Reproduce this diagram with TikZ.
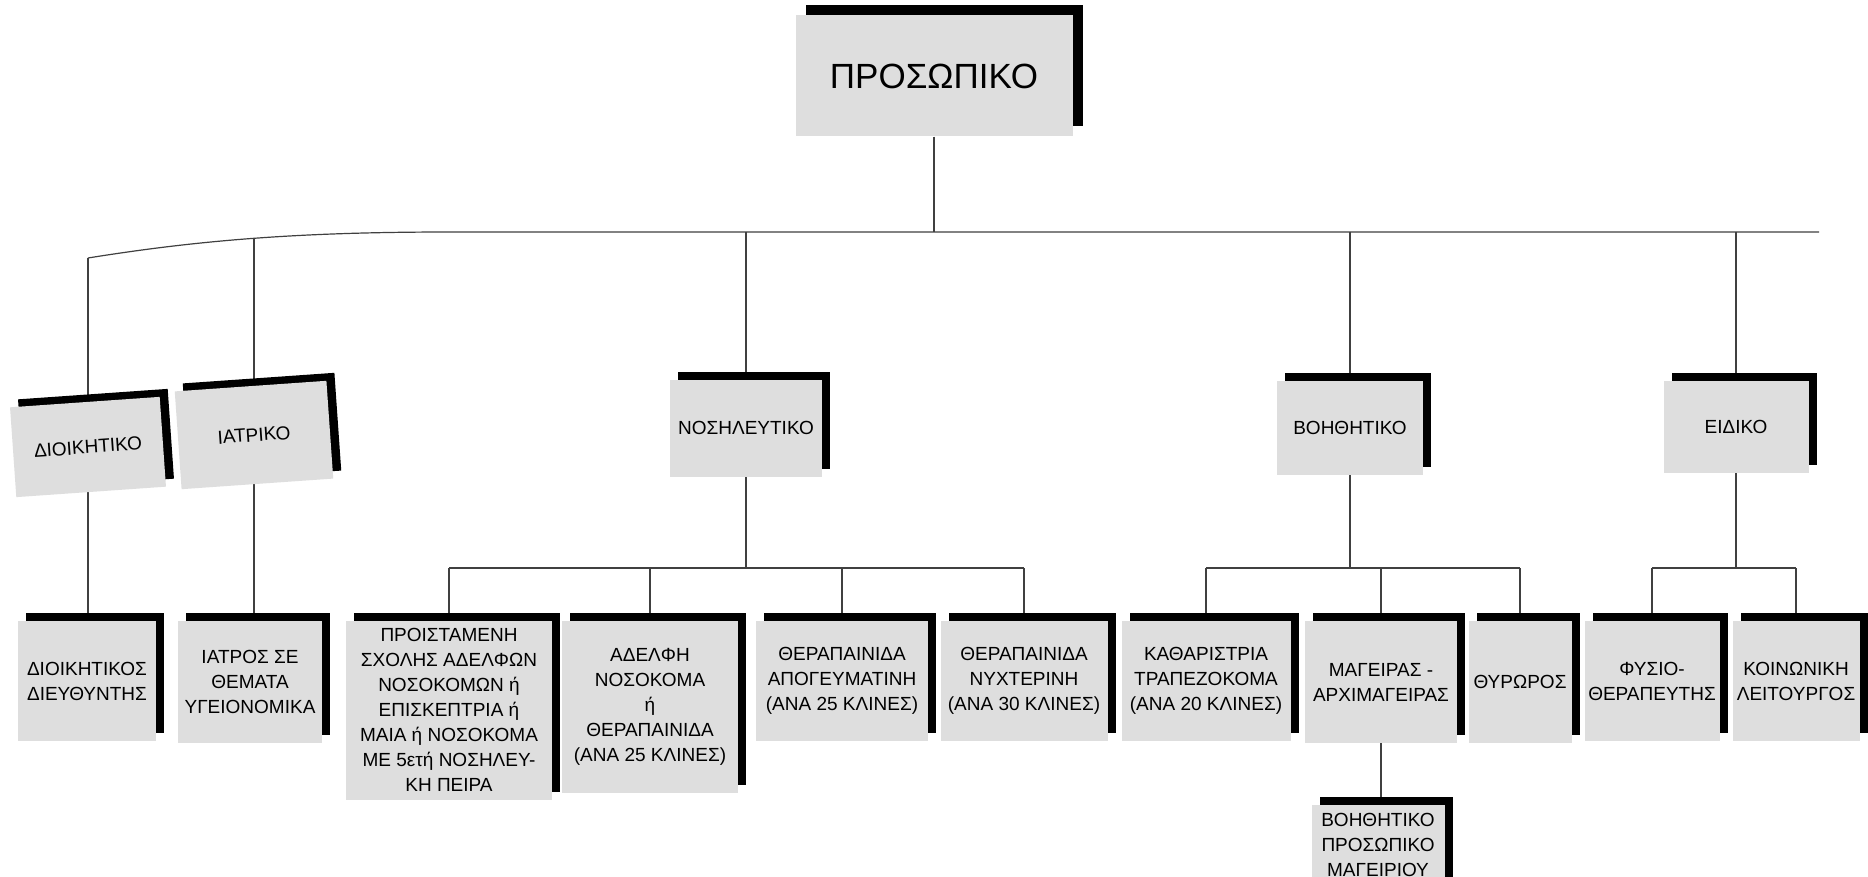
\documentclass[tikz,border=0pt]{standalone}
\usepackage{fontspec}
\setmainfont{Liberation Sans}
\usetikzlibrary{shadows,backgrounds}

\begin{document}
\begin{tikzpicture}[x=1pt,y=-1pt,
    unit/.style={fill=black!13, inner sep=0pt, align=center,
      font=\fontsize{19}{25}\selectfont,
      general shadow={fill=black, shadow xshift=#1, shadow yshift=#1}},
    unit/.default=8pt,
    link/.style={draw=black!75, line width=1.2pt}]
  \clip (0,0) rectangle (1868,877);

  % top
  \node [unit=10pt, minimum width=277pt, minimum height=121pt,
         font=\fontsize{35}{40}\selectfont] (pers) at (934,76) {ΠΡΟΣΩΠΙΚΟ};

  % first level
  \node [unit, rotate=4, minimum width=150pt, minimum height=90pt] (admin) at (88,447) {ΔΙΟΙΚΗΤΙΚΟ};
  \node [unit, rotate=4, minimum width=152pt, minimum height=98pt] (medic) at (254,435) {ΙΑΤΡΙΚΟ};
  \node [unit, minimum width=152pt, minimum height=97pt] (nurse) at (746,428) {ΝΟΣΗΛΕΥΤΙΚΟ};
  \node [unit, minimum width=146pt, minimum height=94pt] (aux) at (1350,428) {ΒΟΗΘΗΤΙΚΟ};
  \node [unit, minimum width=145pt, minimum height=92pt] (spec) at (1736,427) {ΕΙΔΙΚΟ};

  % second level
  \node [unit, minimum width=138pt, minimum height=120pt] (head) at (87,681) {ΔΙΟΙΚΗΤΙΚΟΣ\\ΔΙΕΥΘΥΝΤΗΣ};
  \node [unit, minimum width=144pt, minimum height=122pt] (hyg) at (250,682) {ΙΑΤΡΟΣ ΣΕ\\ΘΕΜΑΤΑ\\ΥΓΕΙΟΝΟΜΙΚΑ};
  \node [unit, minimum width=206pt, minimum height=179pt] (matron) at (449,710)
    {ΠΡΟΙΣΤΑΜΕΝΗ\\ΣΧΟΛΗΣ ΑΔΕΛΦΩΝ\\ΝΟΣΟΚΟΜΩΝ ή\\ΕΠΙΣΚΕΠΤΡΙΑ ή\\ΜΑΙΑ ή ΝΟΣΟΚΟΜΑ\\ΜΕ 5ετή ΝΟΣΗΛΕΥ-\\ΚΗ ΠΕΙΡΑ};
  \node [unit, minimum width=176pt, minimum height=172pt] (sister) at (650,707)
    {ΑΔΕΛΦΗ\\ΝΟΣΟΚΟΜΑ\\ή\\ΘΕΡΑΠΑΙΝΙΔΑ\\(ΑΝΑ 25 ΚΛΙΝΕΣ)};
  \node [unit, minimum width=172pt, minimum height=120pt] (eve) at (842,681) {ΘΕΡΑΠΑΙΝΙΔΑ\\ΑΠΟΓΕΥΜΑΤΙΝΗ\\(ΑΝΑ 25 ΚΛΙΝΕΣ)};
  \node [unit, minimum width=167pt, minimum height=120pt] (night) at (1024,681) {ΘΕΡΑΠΑΙΝΙΔΑ\\ΝΥΧΤΕΡΙΝΗ\\(ΑΝΑ 30 ΚΛΙΝΕΣ)};
  \node [unit, minimum width=169pt, minimum height=120pt] (clean) at (1206,681) {ΚΑΘΑΡΙΣΤΡΙΑ\\ΤΡΑΠΕΖΟΚΟΜΑ\\(ΑΝΑ 20 ΚΛΙΝΕΣ)};
  \node [unit, minimum width=152pt, minimum height=122pt] (cook) at (1381,682) {ΜΑΓΕΙΡΑΣ -\\ΑΡΧΙΜΑΓΕΙΡΑΣ};
  \node [unit, minimum width=103pt, minimum height=122pt] (porter) at (1520,682) {ΘΥΡΩΡΟΣ};
  \node [unit, minimum width=135pt, minimum height=120pt] (phys) at (1652,681) {ΦΥΣΙΟ-\\ΘΕΡΑΠΕΥΤΗΣ};
  \node [unit, minimum width=127pt, minimum height=120pt] (soc) at (1796,681) {ΚΟΙΝΩΝΙΚΗ\\ΛΕΙΤΟΥΡΓΟΣ};

  % third level
  \node [unit, minimum width=133pt, minimum height=80pt] (kitchen) at (1378,845) {ΒΟΗΘΗΤΙΚΟ\\ΠΡΟΣΩΠΙΚΟ\\ΜΑΓΕΙΡΙΟΥ};

  \coordinate (busL) at (88,258);
  \coordinate (busM) at (254,238);
  \coordinate (busR) at (1819,232);
  \coordinate (nbus) at (0,568);

  \begin{pgfonlayer}{background}
    \fill [white] (0,0) rectangle (1868,877);
    \draw [link] (pers) -- (pers |- busR);
    \draw [link] (busL) .. controls (200,240) and (300,232) .. (450,232) -- (busR);
    \draw [link] (busL) -- (busL |- head.north);
    \draw [link] (busM) -- (busM |- hyg.north);
    \foreach \u in {nurse,aux,spec}
      \draw [link] (\u |- busR) -- (\u |- nbus);
    \draw [link] (matron |- nbus) -- (night |- nbus);
    \draw [link] (clean |- nbus) -- (porter |- nbus);
    \draw [link] (phys |- nbus) -- (soc |- nbus);
    \foreach \u in {matron,sister,eve,night,clean,cook,porter,phys,soc}
      \draw [link] (\u) -- (\u |- nbus);
    \draw [link] (cook) -- (cook |- kitchen);
  \end{pgfonlayer}
\end{tikzpicture}
\end{document}
